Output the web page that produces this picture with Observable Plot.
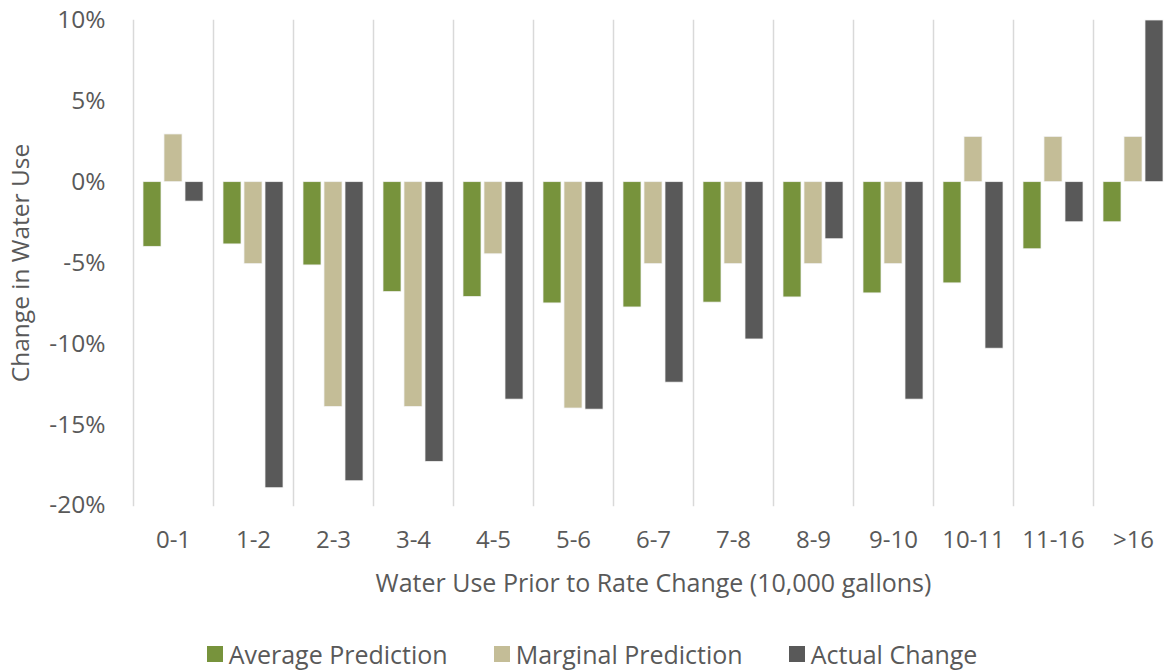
<!DOCTYPE html>
<html>
<head>
<meta charset="utf-8">
<script src="https://cdn.jsdelivr.net/npm/d3@7"></script>
<script src="https://cdn.jsdelivr.net/npm/@observablehq/plot@0.6"></script>
<style>
  html, body { margin: 0; padding: 0; background: #fff; overflow: hidden; }
  #chart svg { display: block; }
  .legend { display: flex; justify-content: center; gap: 46px; font-family: "Open Sans", sans-serif; font-size: 25px; color: #595959; padding-top: 18px; line-height: 32px; padding-left: 10px; }
  .legend .item { display: flex; align-items: center; }
  .legend .sw { width: 16px; height: 16px; margin-right: 6px; display: inline-block; }
  .xtitle { font-size: 25px; }
</style>
</head>
<body>
<div id="chart"></div>
<script>
const categories = ["0-1", "1-2", "2-3", "3-4", "4-5", "5-6", "6-7", "7-8", "8-9", "9-10", "10-11", "11-16", ">16"];
const series = ["Average Prediction", "Marginal Prediction", "Actual Change"];
const averagePrediction = [-4.0, -3.85, -5.15, -6.8, -7.1, -7.5, -7.75, -7.45, -7.13, -6.88, -6.26, -4.15, -2.48];
const marginalPrediction = [2.95, -5.07, -13.9, -13.9, -4.46, -14.0, -5.07, -5.07, -5.07, -5.07, 2.8, 2.8, 2.8];
const actualChange = [-1.2, -18.93, -18.5, -17.3, -13.45, -14.07, -12.4, -9.73, -3.53, -13.45, -10.3, -2.48, 10];
const yTicks = [-20, -15, -10, -5, 0, 5, 10];
const colors = ["#77933C", "#C4BD97", "#595959"];

const valuesBySeries = [averagePrediction, marginalPrediction, actualChange];
const data = [];
categories.forEach((c, i) => {
  series.forEach((s, j) => data.push({category: c, series: s, value: valuesBySeries[j][i]}));
});

const chart = Plot.plot({
  width: 1174,
  height: 620,
  marginTop: 20,
  marginBottom: 115,
  marginLeft: 131,
  marginRight: 0,
  style: {fontFamily: "'Open Sans', sans-serif", fontSize: "24px", color: "#595959", background: "#fff"},
  fx: {domain: categories, padding: 0},
  x: {domain: series, paddingInner: 0.143, paddingOuter: 0.476, axis: null},
  y: {domain: [-20, 10]},
  color: {domain: series, range: colors},
  marks: [
    Plot.frame({anchor: "left", stroke: "#d9d9d9", strokeWidth: 1.5}),
    Plot.barY(data, {fx: "category", x: "series", y: "value", fill: "series", stroke: "#f2f2f2", strokeWidth: 0.75}),
    Plot.axisY({ticks: yTicks, tickFormat: d => d + "%", tickSize: 0, tickPadding: 28, label: "Change in Water Use", labelArrow: "none", labelAnchor: "center", labelOffset: 122, fontSize: 24.5}),
    Plot.axisFx({anchor: "bottom", tickSize: 0, tickPadding: 25, label: null, fontSize: 24}),
    Plot.axisFx({anchor: "bottom", ticks: [], tickSize: 0, label: "Water Use Prior to Rate Change (10,000 gallons)", labelArrow: "none", labelAnchor: "center", labelOffset: 86, fontSize: 25})
  ]
});
document.getElementById("chart").appendChild(chart);

const legend = document.createElement("div");
legend.className = "legend";
series.forEach((s, i) => {
  const item = document.createElement("div");
  item.className = "item";
  const sw = document.createElement("span");
  sw.className = "sw";
  sw.style.background = colors[i];
  const t = document.createElement("span");
  t.textContent = s;
  item.appendChild(sw);
  item.appendChild(t);
  legend.appendChild(item);
});
document.getElementById("chart").appendChild(legend);
</script>
</body>
</html>
